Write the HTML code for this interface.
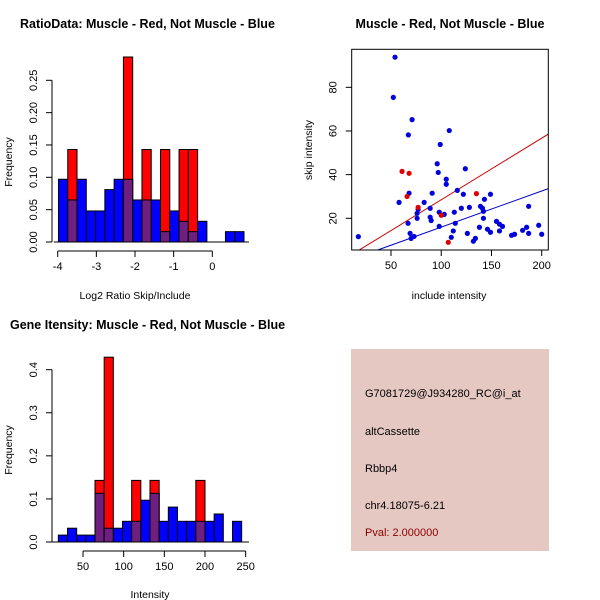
<!DOCTYPE html>
<html><head><meta charset="utf-8"><style>
body{margin:0;background:#fff}
svg{display:block;font-family:"Liberation Sans",sans-serif}
</style></head><body>
<svg id="chart" width="600" height="600" viewBox="0 0 600 600" xmlns="http://www.w3.org/2000/svg">
<rect width="600" height="600" fill="#fff"/>
<g>
<rect x="351" y="349" width="198" height="202" fill="#e6c8c2"/>
<text x="365" y="397" font-size="11" fill="#000">G7081729@J934280_RC@i_at</text>
<text x="365" y="435" font-size="11" fill="#000">altCassette</text>
<text x="365" y="472" font-size="11" fill="#000">Rbbp4</text>
<text x="365" y="509" font-size="11" fill="#000">chr4.18075-6.21</text>
<text x="365" y="536" font-size="11" fill="#8b0000">Pval: 2.000000</text>
</g>
</svg>
<script>
// ratio histogram data
const ratioBinStart = -3.98, ratioBinWidth = 0.24;
const ratioBlue = [0.097,0.065,0.097,0.048,0.048,0.081,0.097,0.097,0.065,0.065,0.065,0.016,0.048,0.032,0.016,0.032,0,0,0.016,0.016];
const ratioRed  = [0,0.143,0,0,0,0,0,0.286,0,0.143,0,0.143,0,0.143,0.143,0,0,0,0,0];
const ratioYTicks = ["0.00","0.05","0.10","0.15","0.20","0.25"];
const ratioXTicks = [-4,-3,-2,-1,0];
// intensity histogram data
const intBinStart = 19.67, intBinWidth = 11.27;
const intBlue = [0.016,0.032,0.016,0.016,0.113,0.032,0.032,0.048,0.048,0.097,0.113,0.048,0.081,0.048,0.048,0.048,0.048,0.065,0,0.048];
const intRed  = [0,0,0,0,0.143,0.429,0,0,0.143,0,0.143,0,0,0,0,0.143,0,0,0,0];
const intYTicks = ["0.0","0.1","0.2","0.3","0.4"];
const intXTicks = [50,100,150,200,250];
// scatter data
const blueX = [17.5,54,52.3,71,67.3,108,99,96,97,124,105,105,68,58,83,91,116,122,149,77,76,89,98,103,113,120,128,139,141,143,142,187,76,89,90,67,98,114,142,138,155,158,161,146,149,158,181,185,187,197,200,170,173,126,112,110,69,70,73,132,134];
const blueY = [11.6,93.8,75.4,65.2,58.2,60.2,53.8,45,41,42.7,37.9,35.6,31.5,27.3,27.3,31.5,32.8,31,31,24.1,22.3,24.6,22.8,21.8,22.8,24.6,25,25.5,24.6,28.7,23.2,25.5,20,20.5,19,17.7,16.3,17.7,20,15.9,18.6,17.3,16.3,15,13.6,14.2,14.5,15.9,13.1,16.8,12.7,12.2,12.7,13.1,14.2,11.3,13.1,10.8,11.7,9.5,10.8];
const redX = [61,68,66,77,135,100,107];
const redY = [41.5,40.6,30,25,31.3,21.4,9];
const redLine = [0.282,0.3];
const blueLine = [0.1655,-0.6];
const scatterXTicks = [50,100,150,200];
const scatterYTicks = [20,40,60,80];

const svg = document.getElementById('chart');
const NS = 'http://www.w3.org/2000/svg';
function mk(tag, attrs, parent){const e=document.createElementNS(NS,tag);for(const k in attrs)e.setAttribute(k,attrs[k]);(parent||svg).appendChild(e);return e;}
function txt(s,x,y,attrs,parent){const e=mk('text',Object.assign({x:x,y:y,'font-size':11,fill:'#000'},attrs),parent);e.textContent=s;return e;}

function hist(g, blue, red, bStart, bW, sx, sy){
  for(let i=0;i<blue.length;i++){
    const x0=sx(bStart+i*bW), x1=sx(bStart+(i+1)*bW);
    const b=blue[i], r=red[i];
    if(b>0){const e=mk('rect',{x:x0,y:sy(b),width:x1-x0,height:sy(0)-sy(b),fill:'#0000ff',stroke:'#000','stroke-width':1},g);
      
      }
    if(r>0){const e=mk('rect',{x:x0,y:sy(r),width:x1-x0,height:sy(0)-sy(r),fill:'#ff0000',stroke:'#000','stroke-width':1},g);
      
      
      const m=Math.min(b,r);
      if(m>0){const p=mk('rect',{x:x0,y:sy(m),width:x1-x0,height:sy(0)-sy(m),fill:'#6e1f80',stroke:'#000','stroke-width':1},g);
        
        }
    }
  }
}
function yAxis(g, ticks, ax, sy){
  const v=ticks.map(Number);
  mk('line',{x1:ax,x2:ax,y1:sy(v[0]),y2:sy(v[v.length-1]),stroke:'#000'},g);
  ticks.forEach((t,i)=>{const y=sy(v[i]);mk('line',{x1:ax-6,x2:ax,y1:y,y2:y,stroke:'#000'},g);
    txt(t,ax-15,y,{'text-anchor':'middle',transform:`rotate(-90 ${ax-15} ${y})`},g);});
}
function xAxis(g, ticks, ay, sx){
  mk('line',{x1:sx(ticks[0]),x2:sx(ticks[ticks.length-1]),y1:ay,y2:ay,stroke:'#000'},g);
  ticks.forEach(t=>{const x=sx(t);mk('line',{x1:x,x2:x,y1:ay,y2:ay+6,stroke:'#000'},g);
    txt(String(t),x,ay+19,{'text-anchor':'middle'},g);});
}

// Panel 1
{
  const g=mk('g',{});
  
  
  const sx=v=>57.7+(v+4)*38.65, sy=v=>242-v*646.8;
  hist(g,ratioBlue,ratioRed,ratioBinStart,ratioBinWidth,sx,sy);
  mk('line',{x1:sx(-4.1),x2:sx(0.95),y1:242,y2:242,stroke:'#000'},g);
  yAxis(g,ratioYTicks,52,sy);
  xAxis(g,ratioXTicks,251,sx);
  txt('RatioData: Muscle - Red, Not Muscle - Blue',20,28,{'font-weight':'bold','font-size':12.5},g);
  txt('Log2 Ratio Skip/Include',135,299,{'text-anchor':'middle','font-size':10.5},g);
  txt('Frequency',12,162,{'text-anchor':'middle','font-size':10.5,transform:'rotate(-90 12 162)'},g);
}
// Panel 3
{
  const g=mk('g',{});
  
  
  const sx=v=>83+(v-50)*0.8133, sy=v=>542-v*430.8;
  hist(g,intBlue,intRed,intBinStart,intBinWidth,sx,sy);
  mk('line',{x1:52,x2:249,y1:542,y2:542,stroke:'#000'},g);
  yAxis(g,intYTicks,52,sy);
  xAxis(g,intXTicks,551,sx);
  txt('Gene Itensity: Muscle - Red, Not Muscle - Blue',10,329,{'font-weight':'bold','font-size':12.5},g);
  txt('Intensity',150,598,{'text-anchor':'middle','font-size':10.5},g);
  txt('Frequency',12,450,{'text-anchor':'middle','font-size':10.5,transform:'rotate(-90 12 450)'},g);
}
// Panel 2 scatter
{
  const g=mk('g',{});
  
  
  const sx=v=>391+(v-50)*1.0047, sy=v=>218.3-(v-20)*2.183;
  const L=351.7,R=548.3,T=49.3,B=250;
  const cp=mk('clipPath',{id:'sc'},g);mk('rect',{x:L,y:T,width:R-L,height:B-T},cp);
  const lg=mk('g',{'clip-path':'url(#sc)'},g);
  const xmin=10,xmax=210;
  const rl=mk('line',{x1:sx(xmin),y1:sy(redLine[0]*xmin+redLine[1]),x2:sx(xmax),y2:sy(redLine[0]*xmax+redLine[1]),stroke:'#cc0000'},lg);
  
  
  const bl=mk('line',{x1:sx(xmin),y1:sy(blueLine[0]*xmin+blueLine[1]),x2:sx(xmax),y2:sy(blueLine[0]*xmax+blueLine[1]),stroke:'#0000cc'},lg);
  
  
  blueX.forEach((x,i)=>{const c=mk('circle',{cx:sx(x),cy:sy(blueY[i]),r:2.6,fill:'#0000dd'},lg);
    
    });
  redX.forEach((x,i)=>{const c=mk('circle',{cx:sx(x),cy:sy(redY[i]),r:2.6,fill:'#dd0000'},lg);
    
    });
  mk('rect',{x:L,y:T,width:R-L,height:B-T,fill:'none',stroke:'#000'},g);
  scatterXTicks.forEach(t=>{const x=sx(t);mk('line',{x1:x,x2:x,y1:B,y2:B+6,stroke:'#000'},g);txt(String(t),x,B+19,{'text-anchor':'middle'},g);});
  scatterYTicks.forEach(t=>{const y=sy(t);mk('line',{x1:L-6,x2:L,y1:y,y2:y,stroke:'#000'},g);txt(String(t),L-15,y,{'text-anchor':'middle',transform:`rotate(-90 ${L-15} ${y})`},g);});
  txt('Muscle - Red, Not Muscle - Blue',450,28,{'text-anchor':'middle','font-weight':'bold','font-size':12.5},g);
  txt('include intensity',449,299,{'text-anchor':'middle','font-size':10.5},g);
  txt('skip intensity',312,150,{'text-anchor':'middle','font-size':10.5,transform:'rotate(-90 312 150)'},g);
}
</script>
</body></html>
